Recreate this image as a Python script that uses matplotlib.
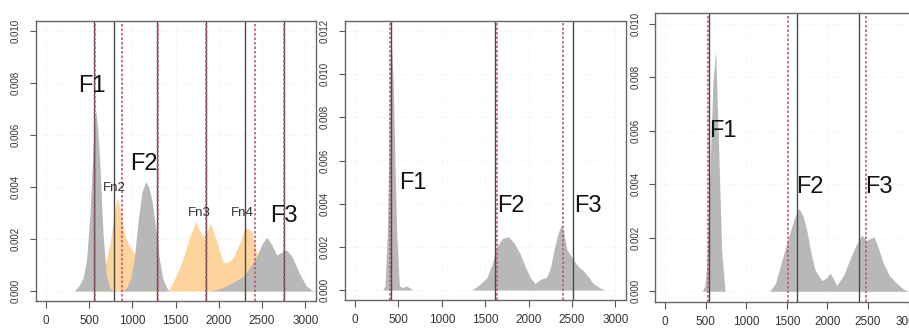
import numpy as np
import matplotlib.pyplot as plt

# density curves (Hz, density)
p1_gray_x = [330, 380, 430, 470, 510, 545, 575, 600, 625, 660, 700, 740, 780,
             880, 930, 980, 1020, 1070, 1110, 1154, 1190, 1230, 1270, 1310, 1350, 1400, 1430,
             1900, 2020, 2150, 2280, 2420, 2500, 2554, 2610, 2670, 2730, 2786, 2850,
             2930, 3010, 3080, 3120]
p1_gray_y = [0, 0.0002, 0.0005, 0.0012, 0.003, 0.0055, 0.0070, 0.0062, 0.0048, 0.0022, 0.0006, 0.0001, 0,
             0, 0.0001, 0.0005, 0.0012, 0.0028, 0.0038, 0.0042, 0.0040, 0.0034, 0.0024, 0.0013, 0.0005, 0.0001, 0,
             0, 0.0001, 0.0003, 0.00055, 0.0012, 0.0018, 0.00207, 0.0018, 0.00138, 0.0015, 0.00158, 0.0013,
             0.0007, 0.0002, 0.00003, 0]

p1_orange_x = [560, 620, 680, 740, 790, 825, 860, 916, 970, 1030, 1100, 1200, 1300, 1380,
               1414, 1480, 1551, 1620, 1667, 1733, 1770, 1807, 1850, 1906, 1975, 2050, 2110,
               2170, 2250, 2303, 2380, 2420, 2470, 2530, 2600, 2680]
p1_orange_y = [0, 0.0003, 0.0009, 0.0018, 0.003, 0.0036, 0.0031, 0.0021, 0.0017, 0.0014, 0.001, 0.0004, 0.0001, 0,
               0, 0.0004, 0.00093, 0.0016, 0.0021, 0.00267, 0.0024, 0.0021, 0.0022, 0.0026, 0.0019, 0.0011, 0.0011,
               0.0013, 0.0019, 0.00246, 0.0023, 0.0017, 0.0011, 0.0006, 0.0002, 0]

p2_gray_x = [320, 345, 372, 392, 405, 420, 440, 453, 480, 511, 550, 588, 630, 670,
             1344, 1420, 1517, 1580, 1632, 1700, 1767, 1830, 1900, 1960, 2016, 2074, 2140,
             2208, 2250, 2285, 2330, 2373, 2400, 2439, 2515, 2570, 2630, 2690, 2745, 2822, 2870]
p2_gray_y = [0, 0.0002, 0.0026, 0.007, 0.0105, 0.0115, 0.0095, 0.0073, 0.0026, 0.0002, 0.0001, 0.0002, 0.0001, 0,
             0, 0.0002, 0.00055, 0.0012, 0.002, 0.0024, 0.00247, 0.0022, 0.0017, 0.0011, 0.0006, 0.0003, 0.0005,
             0.0006, 0.0010, 0.0017, 0.0025, 0.0030, 0.0028, 0.0019, 0.0014, 0.0011, 0.0009, 0.0006, 0.0003, 0.0001, 0]

p3_gray_x = [460, 490, 513, 554, 590, 624, 657, 698, 739,
             1290, 1360, 1416, 1519, 1590, 1650, 1700, 1745, 1800, 1847, 1929, 1990, 2032, 2070,
             2114, 2200, 2278, 2350, 2422, 2483, 2574, 2630, 2689, 2760, 2853, 2930, 3000]
p3_gray_y = [0, 0.0002, 0.0009, 0.0046, 0.0078, 0.0090, 0.0057, 0.0015, 0,
             0, 0.0003, 0.0009, 0.002, 0.0027, 0.0031, 0.0028, 0.0023, 0.0014, 0.0008, 0.0004, 0.0005, 0.00068, 0.0005,
             0.00022, 0.0006, 0.0012, 0.0017, 0.0021, 0.0019, 0.00204, 0.0016, 0.00105, 0.0006, 0.0003, 0.0001, 0]

# formant markers: solid = one estimate, red dotted = another
p1_solid = [560, 790, 1290, 1850, 2300, 2760]
p1_dotted = [570, 885, 1300, 1850, 2420, 2760]
p2_solid = [411, 1617, 2515]
p2_dotted = [405, 1640, 2400]
p3_solid = [541, 1622, 2393]
p3_dotted = [533, 1519, 2475]

# labels: (text, x, y)
p1_labels = [("F1", 528, 0.0079), ("F2", 1137, 0.0049), ("F3", 2755, 0.0029)]
p1_small = [("Fn2", 787, 0.00396), ("Fn3", 1771, 0.0030), ("Fn4", 2270, 0.0030)]
p2_labels = [("F1", 668, 0.00495), ("F2", 1794, 0.0039), ("F3", 2684, 0.0039)]
p3_labels = [("F1", 715, 0.0060), ("F2", 1786, 0.0039), ("F3", 2635, 0.0039)]

GRAY = '#b8b8b8'
ORANGE = '#fcd49c'
FONT = ['Liberation Sans', 'DejaVu Sans']

fig = plt.figure(figsize=(9.09, 3.33), dpi=100)
W, H = 909, 333


def panel(box, ymax, curves, solid, dotted, labels, small=()):
    l, t, r, b = box
    ax = fig.add_axes([l / W, 1 - b / H, (r - l) / W, (b - t) / H])
    for xs, ys, col in curves:
        ax.fill_between(xs, ys, 0, color=col, lw=0)
    for v in solid:
        ax.axvline(v, color='#4a4a4a', lw=1.0)
    for v in dotted:
        ax.axvline(v, color='#c25a70', lw=1.2, ls=(0, (1.5, 1.2)))
    for s, x, y in labels:
        ax.text(x, y, s, fontsize=17, family=FONT, ha='center', va='center', color='#111111')
    for s, x, y in small:
        ax.text(x, y, s, fontsize=9.5, family=FONT, ha='center', va='center', color='#333333')
    ax.set_xlim(-120, 3120)
    ax.set_ylim(-0.04 * ymax, 1.04 * ymax)
    ax.set_xticks(np.arange(0, 3001, 500))
    yt = np.arange(0, ymax + 1e-9, 0.002)
    ax.set_yticks(yt)
    ax.set_yticklabels(['%.3f' % v for v in yt], fontsize=7, rotation=90, va='center',
                       color='#333333', family=FONT)
    ax.set_xticklabels([str(v) for v in range(0, 3001, 500)], fontsize=8.5,
                       color='#333333', family=FONT)
    ax.tick_params(axis='x', length=5, pad=5, color='#555555')
    ax.tick_params(axis='y', length=4.5, pad=6, color='#555555')
    ax.grid(True, color='#ececec', lw=0.6, ls=':')
    ax.set_axisbelow(True)
    for sp in ax.spines.values():
        sp.set_color('#666666')
        sp.set_linewidth(1.0)
    return ax


panel((35.6, 20.6, 315.6, 301.4), 0.010,
      [(p1_orange_x, p1_orange_y, ORANGE), (p1_gray_x, p1_gray_y, GRAY)],
      p1_solid, p1_dotted, p1_labels, p1_small)
panel((344.6, 20.6, 625.8, 300.4), 0.012,
      [(p2_gray_x, p2_gray_y, GRAY)],
      p2_solid, p2_dotted, p2_labels)
panel((655.3, 13.0, 918.3, 302.0), 0.010,
      [(p3_gray_x, p3_gray_y, GRAY)],
      p3_solid, p3_dotted, p3_labels)

fig.savefig('out.png', dpi=100)
